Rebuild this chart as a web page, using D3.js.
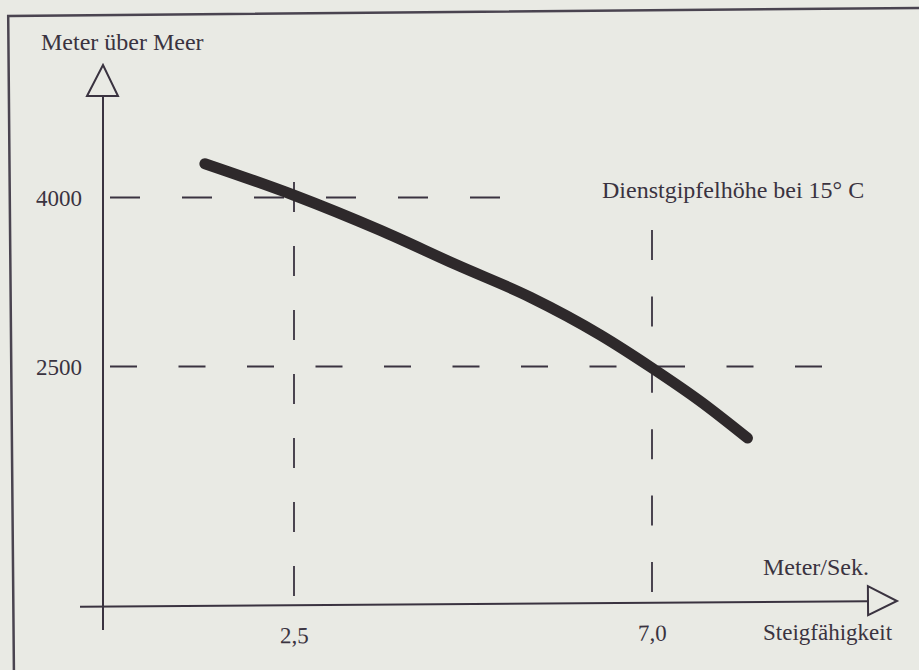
<!DOCTYPE html>
<html><head><meta charset="utf-8">
<script src="https://cdn.jsdelivr.net/npm/d3@7"></script>
<style>
html,body{margin:0;padding:0;background:#e9eae4;}
svg{display:block;}
text{font-family:"Liberation Serif","Times New Roman",serif;fill:#3a3340;}
</style></head>
<body>
<svg id="chart" width="919" height="670"></svg>
<script>
// ---- data ----
const climbRate = [1.38, 2.5, 3.58, 4.55, 5.47, 6.35, 7.0, 7.6, 8.2];      // Meter/Sek.
const altitude  = [4300, 4020, 3710, 3400, 3115, 2780, 2487, 2195, 1865];  // Meter über Meer
const xTicks = [2.5, 7.0];
const xTickLabels = ["2,5", "7,0"];
const yTicks = [4000, 2500];
const yTickLabels = ["4000", "2500"];
const yTitle = "Meter über Meer";
const xUnit = "Meter/Sek.";
const xTitle = "Steigfähigkeit";
const note = "Dienstgipfelhöhe bei 15° C";

// ---- layout ----
const W = 919, H = 670;
const ink = "#3a3340";
const paper = "#e9eae4";
const svg = d3.select("#chart");
svg.append("rect").attr("width", W).attr("height", H).attr("fill", paper);

const x = d3.scaleLinear().domain([2.5, 7.0]).range([294, 652]);
const y = d3.scaleLinear().domain([2500, 4000]).range([366.5, 197.5]);

// frame (slightly skewed scan)
svg.append("rect").attr("x", 11).attr("y", 12).attr("width", 940).attr("height", 680)
  .attr("fill", "none").attr("stroke", "#4a4450").attr("stroke-width", 2.5)
  .attr("transform", "rotate(-0.5,460,335)");

const g = svg.append("g");

// y axis with open triangle arrow
const yAxisX = 103;
g.append("line").attr("x1", yAxisX).attr("x2", yAxisX).attr("y1", 96).attr("y2", 630)
  .attr("stroke", ink).attr("stroke-width", 2);
g.append("path").attr("d", `M${yAxisX-16},96 L${yAxisX},65 L${yAxisX+15},96 Z`)
  .attr("fill", paper).attr("stroke", ink).attr("stroke-width", 2);

// x axis with open triangle arrow (slightly tilted like the scan)
const xg = g.append("g").attr("transform", "rotate(-0.4,470,604)");
const xAxisY = 604;
xg.append("line").attr("x1", 80).attr("x2", 868).attr("y1", xAxisY).attr("y2", xAxisY)
  .attr("stroke", ink).attr("stroke-width", 2);
xg.append("path").attr("d", `M868,${xAxisY-15} L897,${xAxisY} L868,${xAxisY+14} Z`)
  .attr("fill", paper).attr("stroke", ink).attr("stroke-width", 2);
xg.selectAll("text.xt").data(xTicks).join("text").attr("class", "xt")
  .attr("x", d => x(d)).attr("y", 642).attr("text-anchor", "middle")
  .attr("font-size", 23).text((d, i) => xTickLabels[i]);

// y tick labels
g.selectAll("text.yt").data(yTicks).join("text").attr("class", "yt")
  .attr("x", 82).attr("y", d => y(d) + 8).attr("text-anchor", "end")
  .attr("font-size", 23).text((d, i) => yTickLabels[i]);

// dashed reference lines
const hExt = {4000: [110, 502], 2500: [110, 822]};
const hDash = {4000: "30,42", 2500: "27,41.5"};
g.selectAll("line.h").data(yTicks).join("line").attr("class", "h")
  .attr("x1", d => hExt[d][0]).attr("x2", d => hExt[d][1])
  .attr("y1", d => y(d)).attr("y2", d => y(d))
  .attr("stroke", ink).attr("stroke-width", 1.8)
  .attr("stroke-dasharray", d => hDash[d]);
const vExt = {2.5: [182, 598], 7.0: [230, 592]};
const vDash = {2.5: "30,34", 7.0: "30,36.4"};
g.selectAll("line.v").data(xTicks).join("line").attr("class", "v")
  .attr("x1", d => x(d)).attr("x2", d => x(d))
  .attr("y1", d => vExt[d][0]).attr("y2", d => vExt[d][1])
  .attr("stroke", ink).attr("stroke-width", 1.8)
  .attr("stroke-dasharray", d => vDash[d]);

// curve
const pts = climbRate.map((v, i) => [v, altitude[i]]);
const line = d3.line().x(d => x(d[0])).y(d => y(d[1])).curve(d3.curveMonotoneX);
g.append("path").attr("d", line(pts)).attr("fill", "none")
  .attr("stroke", "#2e292b").attr("stroke-width", 11)
  .attr("stroke-linecap", "round").attr("stroke-linejoin", "round");

// texts
g.append("text").attr("x", 41).attr("y", 50).attr("font-size", 24).text(yTitle);
g.append("text").attr("x", 602).attr("y", 198).attr("font-size", 24).text(note);
g.append("text").attr("x", 763).attr("y", 575).attr("font-size", 24).text(xUnit);
g.append("text").attr("x", 763).attr("y", 640).attr("font-size", 23).text(xTitle);
</script>
</body></html>
